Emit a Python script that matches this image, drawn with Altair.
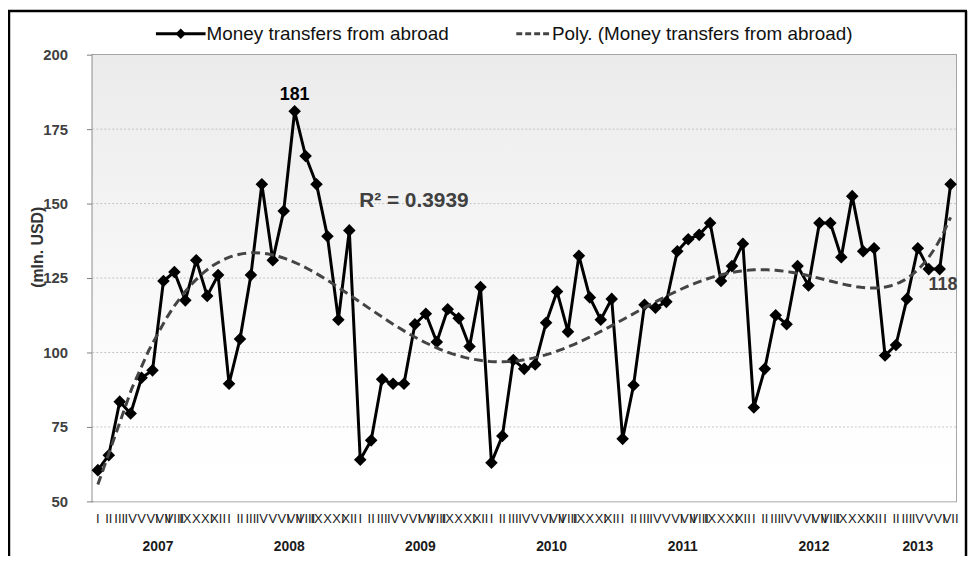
import altair as alt
import pandas as pd

# ---- data ----
years = ["2007", "2008", "2009", "2010", "2011", "2012", "2013"]
month_labels = ["I", "II", "III", "IV", "V", "VI", "VII", "VIII", "IX", "X", "XI", "XII"]
values = [
    60.5, 65.5, 83.5, 79.5, 91.5, 94, 124, 127, 117.5, 131, 119, 126,          # 2007
    89.5, 104.5, 126, 156.5, 131, 147.5, 181, 166, 156.5, 139, 111, 141,       # 2008
    64, 70.5, 91, 89.5, 89.5, 109.5, 113, 103.5, 114.5, 111.5, 102, 122,       # 2009
    63, 72, 97.5, 94.5, 96, 110, 120.5, 107, 132.5, 118.5, 111, 118,           # 2010
    71, 89, 116, 115, 117, 134, 138, 139.5, 143.5, 124, 129, 136.5,            # 2011
    81.5, 94.5, 112.5, 109.5, 129, 122.5, 143.5, 143.5, 132, 152.5, 134, 135,  # 2012
    99, 102.5, 118, 135, 128, 128, 156.5,                                      # 2013
]
y_ticks = [50, 75, 100, 125, 150, 175, 200]
legend_labels = ["Money transfers from abroad", "Poly. (Money transfers from abroad)"]
peak_label = "181"
r2_text = "R² = 0.3939"
end_label = "118"
y_title = "(mln. USD)"

n = len(values)
df = pd.DataFrame({
    "idx": list(range(n)),
    "value": values,
    "month": [month_labels[i % 12] for i in range(n)],
    "year": [years[i // 12] for i in range(n)],
})
year_df = df.groupby("year", as_index=False)["idx"].mean()

W, H = 870, 450
xs = alt.Scale(domain=[-0.5, n - 0.5], nice=False, zero=False)
ys = alt.Scale(domain=[50, 200], nice=False, zero=False)
X = alt.X("idx:Q", scale=xs, axis=None)

one = pd.DataFrame({"a": [0]})

bg = alt.Chart(one).mark_rect(
    fill=alt.Gradient(gradient="linear", x1=0, x2=0, y1=0, y2=1,
                      stops=[alt.GradientStop(offset=0, color="#ebebeb"),
                             alt.GradientStop(offset=0.75, color="#fdfdfd"),
                             alt.GradientStop(offset=1, color="#ffffff")])
).encode(x=alt.value(0), x2=alt.value(W), y=alt.value(0), y2=alt.value(H))

grid = alt.Chart(pd.DataFrame({"v": y_ticks[1:-1]})).mark_rule(
    color="#c4c4c4", strokeDash=[2, 2], strokeWidth=1
).encode(y=alt.Y("v:Q", scale=ys))

yaxis = alt.Chart(pd.DataFrame({"v": y_ticks})).mark_point(opacity=0).encode(
    y=alt.Y("v:Q", scale=ys, axis=alt.Axis(
        values=y_ticks, title=None, grid=False, labelFont="Liberation Sans",
        labelFontSize=15, labelFontWeight="bold", labelColor="#404040",
        labelPadding=19, tickSize=6, tickColor="#808080", domainColor="#6a6a6a",
        domainWidth=2))
)

line = alt.Chart(df).mark_line(color="black", strokeWidth=3).encode(
    x=X, y=alt.Y("value:Q", scale=ys))
pts = alt.Chart(df).mark_point(shape="diamond", filled=True, size=160, color="black",
                                opacity=1).encode(x=X, y=alt.Y("value:Q", scale=ys))

trend = alt.Chart(df).transform_regression(
    "idx", "value", method="poly", order=6, extent=[0, n - 1]
).mark_line(color="#444444", strokeDash=[9, 5], strokeWidth=3).encode(
    x=X, y=alt.Y("value:Q", scale=ys))

month_txt = alt.Chart(df).mark_text(
    font="Liberation Sans", fontSize=13,
    color="#1a1a1a", baseline="middle"
).encode(x=X, y=alt.value(468), text="month:N")

year_txt = alt.Chart(year_df).mark_text(
    font="Liberation Sans", fontSize=14, fontWeight="bold", color="#1a1a1a",
    baseline="middle"
).encode(x=X, y=alt.value(496), text="year:N")

peak = alt.Chart(pd.DataFrame({"idx": [18], "value": [181], "t": [peak_label]})).mark_text(
    font="Liberation Sans", fontSize=18, fontWeight="bold", color="black", dy=-16,
    baseline="middle"
).encode(x=X, y=alt.Y("value:Q", scale=ys), text="t:N")

r2 = alt.Chart(pd.DataFrame({"idx": [23.9], "value": [151], "t": [r2_text]})).mark_text(
    font="Liberation Sans", fontSize=21, fontWeight="bold", color="#404040",
    align="left", baseline="middle"
).encode(x=X, y=alt.Y("value:Q", scale=ys), text="t:N")

endl = alt.Chart(pd.DataFrame({"idx": [77.3], "value": [122.8], "t": [end_label]})).mark_text(
    font="Liberation Sans", fontSize=18, fontWeight="bold", color="#404040",
    baseline="middle"
).encode(x=X, y=alt.Y("value:Q", scale=ys), text="t:N")

ytitle = alt.Chart(one.assign(t=y_title)).mark_text(
    font="Liberation Sans", fontSize=16, fontWeight="bold", color="#333333",
    angle=270, baseline="middle"
).encode(x=alt.value(-55), y=alt.value(194), text="t:N")

# legend
leg_line = alt.Chart(one).mark_rule(color="black", strokeWidth=3).encode(
    x=alt.value(64), x2=alt.value(114), y=alt.value(-21))
leg_dia = alt.Chart(one).mark_point(shape="diamond", filled=True, size=110, color="black",
                                    opacity=1).encode(x=alt.value(89), y=alt.value(-21))
leg_dash = alt.Chart(one).mark_rule(color="#444444", strokeWidth=3, strokeDash=[6, 3]).encode(
    x=alt.value(427), x2=alt.value(462), y=alt.value(-21))
leg_txt = alt.Chart(pd.DataFrame({"t": legend_labels, "px": [115, 463]})).mark_text(
    font="Liberation Sans", fontSize=19, color="#111111", align="left", baseline="middle"
).encode(x=alt.X("px:Q", scale=None), y=alt.value(-21), text="t:N")

# outer frame
frame_l = alt.Chart(one).mark_rule(color="black", strokeWidth=2.5).encode(
    x=alt.value(-84), y=alt.value(-44), y2=alt.value(505))
frame_t = alt.Chart(one).mark_rule(color="black", strokeWidth=2.5).encode(
    x=alt.value(-85), x2=alt.value(881), y=alt.value(-44))
frame_r = alt.Chart(one).mark_rule(color="black", strokeWidth=2.5).encode(
    x=alt.value(880), y=alt.value(-44), y2=alt.value(505))

chart = alt.layer(
    bg, grid, yaxis, line, pts, trend, month_txt, year_txt, peak, r2, endl, ytitle,
    leg_line, leg_dia, leg_dash, leg_txt, frame_l, frame_t, frame_r
).properties(
    width=W, height=H,
    autosize=alt.AutoSizeParams(type="none"),
    padding={"left": 85, "top": 45, "right": 12, "bottom": 54},
).configure_view(stroke="#8c8c8c", strokeWidth=1.5)

chart.save("out.html", embed_options={"renderer": "svg", "actions": False})
